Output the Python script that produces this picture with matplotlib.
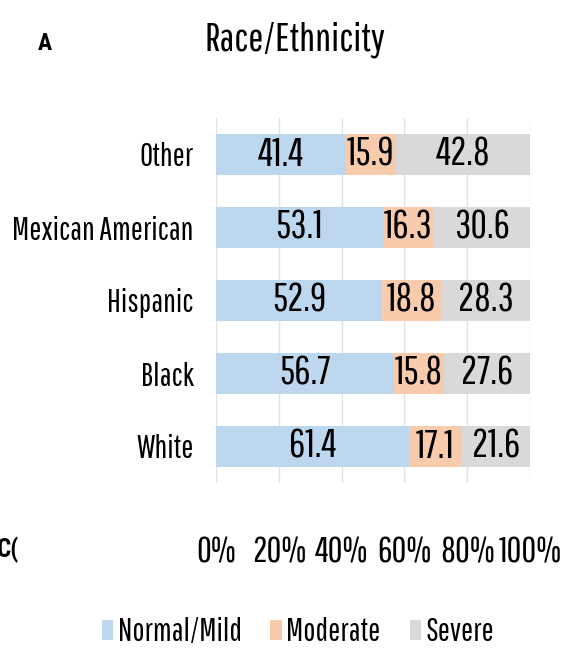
import numpy as np
import matplotlib.pyplot as plt

# narrow font, close to the Arial Narrow of the original
plt.rcParams['font.family'] = ['Pathway Gothic One', 'DejaVu Sans']

# data
groups = ['White', 'Black', 'Hispanic', 'Mexican American', 'Other']
normal_mild = [61.4, 56.7, 52.9, 53.1, 41.4]
moderate = [17.1, 15.8, 18.8, 16.3, 15.9]
severe = [21.6, 27.6, 28.3, 30.6, 42.8]
series_names = ['Normal/Mild', 'Moderate', 'Severe']
colors = ['#BDD7EE', '#F8CBAD', '#D9D9D9']
xticks = [0, 20, 40, 60, 80, 100]

fig = plt.figure(figsize=(5.73, 6.5), dpi=100)
ax = fig.add_axes([216 / 573, 1 - 483 / 650, 314 / 573, 365 / 650])

y = np.arange(len(groups))
left = np.zeros(len(groups))
for vals, name, c in zip([normal_mild, moderate, severe], series_names, colors):
    vals = np.array(vals)
    ax.barh(y, vals, left=left, height=0.57, color=c, label=name, zorder=2)
    for yi, l, v in zip(y, left, vals):
        ax.text(l + v / 2, yi, f'{v:.1f}', ha='center', va='center',
                fontsize=29, color='black', zorder=3)
    left = left + vals

ax.set_xlim(0, 100)
ax.set_ylim(-0.5, len(groups) - 0.5)
ax.set_xticks(xticks)
ax.set_xticklabels([f'{t}%' for t in xticks], fontsize=26)
ax.set_yticks(y)
ax.set_yticklabels(groups, fontsize=23)
ax.tick_params(axis='both', length=0)
ax.tick_params(axis='x', pad=38)
ax.tick_params(axis='y', pad=16)
ax.grid(axis='x', color='#E3E3E3', linewidth=1, zorder=0)
for s in ax.spines.values():
    s.set_visible(False)

fig.text(295 / 573, 1 - 40 / 650, 'Race/Ethnicity', ha='center', va='center', fontsize=29)
fig.text(45 / 573, 1 - 44 / 650, 'A', ha='center', va='center', fontsize=17,
         fontweight='bold', family='Roboto Condensed')
fig.text(-0.006, 1 - 550 / 650, 'C(', ha='left', va='center', fontsize=18,
         fontweight='bold', family='Roboto Condensed')

fig.legend(loc='center', bbox_to_anchor=(298 / 573, 1 - 632 / 650), ncol=3,
           frameon=False, fontsize=23, handlelength=0.35, handleheight=0.6,
           handletextpad=0.15, columnspacing=0.9)

fig.savefig('out.png', dpi=100)
